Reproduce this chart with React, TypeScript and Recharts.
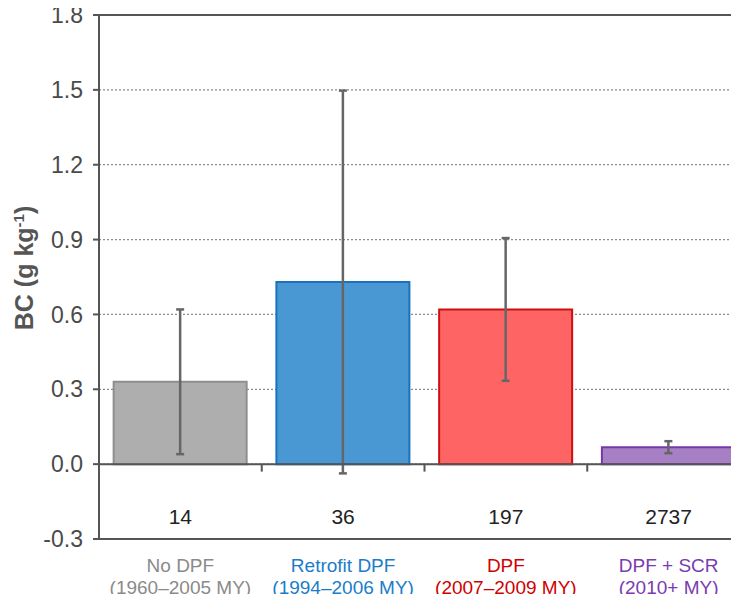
import { Bar, BarChart, CartesianGrid, Cell, ErrorBar, Label, ReferenceLine, XAxis, YAxis } from "recharts";

const categories = ["No DPF", "Retrofit DPF", "DPF", "DPF + SCR"];
const modelYears = ["(1960–2005 MY)", "(1994–2006 MY)", "(2007–2009 MY)", "(2010+ MY)"];
const counts = [14, 36, 197, 2737];
const bcMeans = [0.33, 0.73, 0.62, 0.068];
const bcErrors = [0.29, 0.767, 0.286, 0.024];
const yTicks = [-0.3, 0, 0.3, 0.6, 0.9, 1.2, 1.5, 1.8];

const fills = ["#aeaeae", "#4a98d3", "#ff6464", "#a77fc4"];
const strokes = ["#8e8e8e", "#1a72bd", "#cc1010", "#7438a8"];
const labelColors = ["#8a8a8a", "#1a7dc9", "#d00000", "#7a3bb0"];

const data = categories.map((name, i) => ({
  name,
  bc: bcMeans[i],
  err: bcErrors[i],
}));

const sans = "'Liberation Sans', Arial, Helvetica, sans-serif";
const axisColor = "#555";

function XTick(props: any) {
  const { x, y, payload } = props;
  const i = payload?.index ?? props.index ?? 0;
  return (
    <g fontFamily={sans} textAnchor="middle">
      <text x={x} y={y - 15} fontSize={21} fill="#222">{counts[i]}</text>
      <text x={x} y={y + 33} fontSize={19} fill={labelColors[i]}>{categories[i]}</text>
      <text x={x} y={y + 55} fontSize={19} fill={labelColors[i]}>{modelYears[i]}</text>
    </g>
  );
}

function YLabel(props: any) {
  const vb = props.viewBox || { x: 29, y: 15, width: 70, height: 524 };
  const x = vb.x + 4;
  const y = vb.y + vb.height / 2 - 9;
  return (
    <text
      x={x}
      y={y}
      transform={`rotate(-90, ${x}, ${y})`}
      textAnchor="middle"
      fontFamily={sans}
      fontWeight="bold"
      fontSize={25}
      fill="#555"
    >
      BC (g kg
      <tspan dy={-9} fontSize={15}>-1</tspan>
      <tspan dy={9}>)</tspan>
    </text>
  );
}

export default function App() {
  return (
    <div
      style={{
        margin: "-8px 0 -8px -8px",
        width: 739,
        height: 602,
        overflow: "hidden",
        background: "#fff",
      }}
    >
      <BarChart
        width={739}
        height={602}
        data={data}
        margin={{ top: 15, right: 0, bottom: 0, left: 29 }}
        barCategoryGap="9%"
      >
        <CartesianGrid vertical={false} stroke="#8a8a8a" strokeDasharray="2 2" strokeWidth={1.2} />
        <XAxis
          dataKey="name"
          height={63}
          interval={0}
          padding={{ left: 0, right: -11 }}
          tickLine={false}
          tickSize={0}
          tickMargin={0}
          axisLine={{ stroke: axisColor, strokeWidth: 2 }}
          tick={<XTick />}
        />
        <YAxis
          width={70}
          domain={[-0.3, 1.8]}
          ticks={yTicks}
          interval={0}
          tickFormatter={(v: number) => v.toFixed(1)}
          tickSize={6}
          tickMargin={10}
          tickLine={{ stroke: axisColor, strokeWidth: 2 }}
          axisLine={{ stroke: axisColor, strokeWidth: 2 }}
          tick={{ fill: "#4a4a4a", fontSize: 23, fontFamily: sans }}
        >
          <Label content={<YLabel />} />
        </YAxis>
        <ReferenceLine y={1.8} stroke={axisColor} strokeWidth={2} />
        <Bar dataKey="bc" isAnimationActive={false} strokeWidth={2}>
          {data.map((d, i) => (
            <Cell key={d.name} fill={fills[i]} stroke={strokes[i]} />
          ))}
          <ErrorBar dataKey="err" width={4} strokeWidth={2.5} stroke="#666" direction="y" isAnimationActive={false} />
        </Bar>
        <ReferenceLine y={0} stroke={axisColor} strokeWidth={2} />
        {categories.slice(1).map((c) => (
          <ReferenceLine
            key={c}
            position="start"
            segment={[{ x: c, y: 0 }, { x: c, y: -0.03 }]}
            stroke={axisColor}
            strokeWidth={2}
          />
        ))}
      </BarChart>
    </div>
  );
}
